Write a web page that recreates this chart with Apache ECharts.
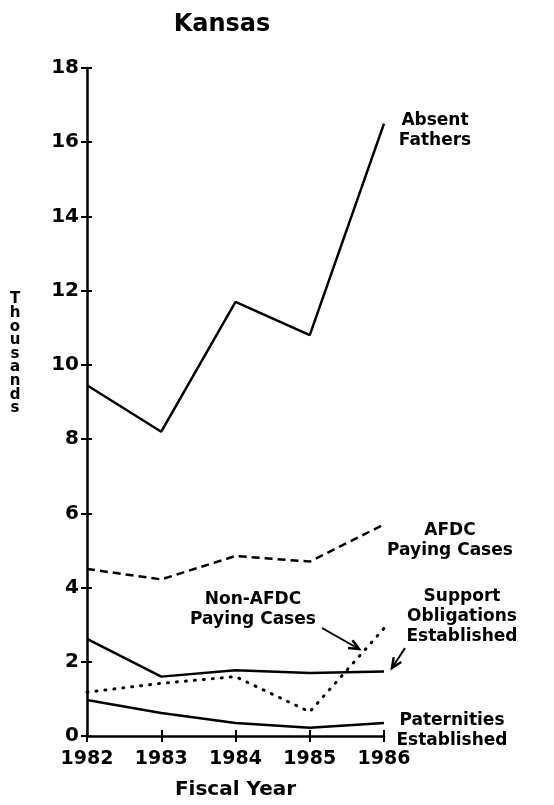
<!DOCTYPE html>
<html><head><meta charset="utf-8">
<script src="https://cdn.jsdelivr.net/npm/echarts@6/dist/echarts.min.js"></script>
<style>html,body{margin:0;padding:0;background:#fff}#c{width:554px;height:805px}</style>
</head><body><div id="c"></div>
<script>
const years = ['1982','1983','1984','1985','1986'];
const absentFathers = [9.45, 8.2, 11.7, 10.8, 16.5];
const afdcPaying = [4.5, 4.22, 4.85, 4.7, 5.7];
const nonAfdcPaying = [2.62, 1.6, 1.77, 1.7, 1.74];
const supportObligations = [1.18, 1.42, 1.6, 0.65, 2.9];
const paternities = [0.97, 0.62, 0.35, 0.22, 0.35];
const yTicks = [0,2,4,6,8,10,12,14,16,18];

const F = 'DejaVu Sans';
const chart = echarts.init(document.getElementById('c'));
const txt = (x, y, s, size) => ({type:'text', x:x, y:y, style:{text:s, font:'bold '+size+'px "'+F+'"', fill:'#000', textAlign:'center', textVerticalAlign:'middle', lineHeight:20}});
const arrow = (x1,y1,x2,y2) => {
  const a = Math.atan2(y2-y1, x2-x1), L = 11, W = 0.42;
  return [{type:'line', shape:{x1:x1,y1:y1,x2:x2,y2:y2}, style:{stroke:'#000', lineWidth:2}},
    {type:'polyline', shape:{points:[[x2-L*Math.cos(a-W), y2-L*Math.sin(a-W)],[x2,y2],[x2-L*Math.cos(a+W), y2-L*Math.sin(a+W)]]}, style:{stroke:'#000', lineWidth:2.5, fill:null}}];
};
const base = {type:'line', symbol:'none', silent:true, z:3};
chart.setOption({
  animation:false,
  backgroundColor:'#fff',
  title:{text:'Kansas', left:217, top:8, textAlign:'center', textStyle:{fontFamily:F, fontWeight:'bold', fontSize:24, color:'#000'}},
  grid:{left:87, right:170, top:68, bottom:65},
  xAxis:[{type:'category', data:years, boundaryGap:false,
    axisLine:{lineStyle:{color:'#000', width:2.5}},
    axisTick:{show:true, length:6, lineStyle:{color:'#000', width:2}},
    axisLabel:{fontFamily:F, fontWeight:'bold', fontSize:19, color:'#000', margin:14},
    name:'Fiscal Year', nameLocation:'middle', nameGap:44,
    nameTextStyle:{fontFamily:F, fontWeight:'bold', fontSize:20, color:'#000'},
    splitLine:{show:false}},
    {type:'category', data:years, boundaryGap:false, position:'bottom',
    axisLine:{show:false}, axisTick:{show:true, inside:true, length:6, lineStyle:{color:'#000', width:2}},
    axisLabel:{show:false}}],
  yAxis:[{type:'value', min:0, max:18, interval:2,
    axisLine:{show:true, lineStyle:{color:'#000', width:2.5}},
    axisTick:{show:true, length:6, lineStyle:{color:'#000', width:2}},
    axisLabel:{fontFamily:F, fontWeight:'bold', fontSize:20, color:'#000', margin:8,
      formatter:v => yTicks.indexOf(v) >= 0 ? String(v) : ''},
    splitLine:{show:false}},
    {type:'value', min:0, max:18, interval:2, position:'left',
    axisLine:{show:false}, axisTick:{show:true, inside:true, length:5, lineStyle:{color:'#000', width:2}},
    axisLabel:{show:false}, splitLine:{show:false}}],
  graphic:[
    {type:'text', x:15, y:354, style:{text:'T\nh\no\nu\ns\na\nn\nd\ns', font:'bold 15px "'+F+'"', fill:'#000', textAlign:'center', textVerticalAlign:'middle', lineHeight:13.6}},
    txt(435, 131, 'Absent\nFathers', 17),
    txt(450, 541, 'AFDC\nPaying Cases', 17),
    txt(253, 610, 'Non-AFDC\nPaying Cases', 17),
    txt(462, 617, 'Support\nObligations\nEstablished', 17),
    txt(452, 731, 'Paternities\nEstablished', 17),
    ...arrow(322, 628, 359, 649),
    ...arrow(405, 648, 392, 668)
  ],
  series:[
    Object.assign({}, base, {name:'Absent Fathers', data:absentFathers, lineStyle:{color:'#000', width:2.5}}),
    Object.assign({}, base, {name:'AFDC Paying Cases', data:afdcPaying, lineStyle:{color:'#000', width:2.5, type:[8,5]}}),
    Object.assign({}, base, {name:'Non-AFDC Paying Cases', data:nonAfdcPaying, lineStyle:{color:'#000', width:2.5}}),
    Object.assign({}, base, {name:'Support Obligations Established', data:supportObligations, lineStyle:{color:'#000', width:3, type:[1,8], cap:'round'}}),
    Object.assign({}, base, {name:'Paternities Established', data:paternities, lineStyle:{color:'#000', width:2.5}})
  ]
});
</script></body></html>
